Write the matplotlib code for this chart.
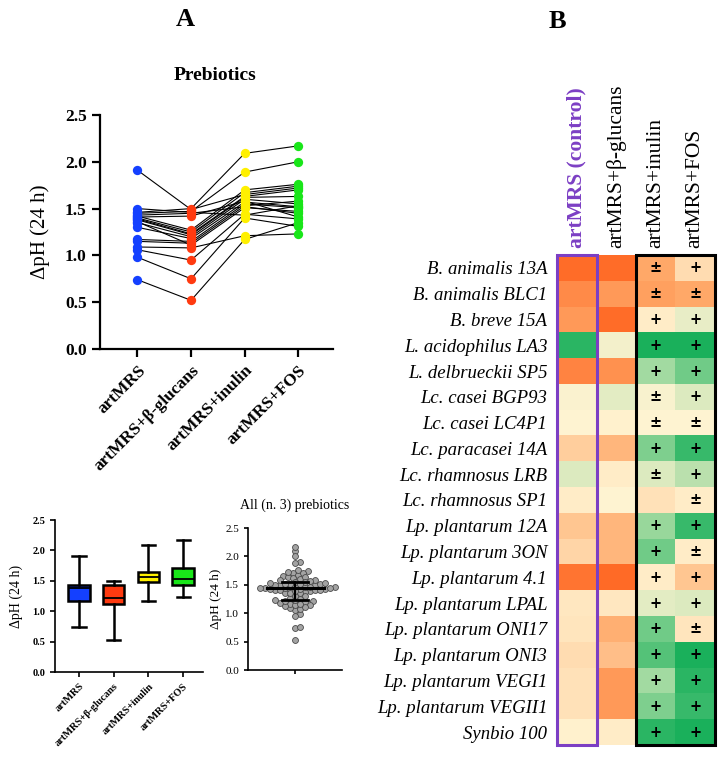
import numpy as np
import matplotlib
matplotlib.use('Agg')
import matplotlib.pyplot as plt
from matplotlib.colors import LinearSegmentedColormap
from matplotlib.patches import Rectangle

plt.rcParams['font.family'] = ['Liberation Serif', 'DejaVu Serif']

# data
media = ['artMRS', 'artMRS+β-glucans', 'artMRS+inulin', 'artMRS+FOS']
media_colors = ['#1440FF', '#FF3A10', '#FFF000', '#19E619']

strains = ['B. animalis 13A', 'B. animalis BLC1', 'B. breve 15A', 'L. acidophilus LA3',
           'L. delbrueckii SP5', 'Lc. casei BGP93', 'Lc. casei LC4P1', 'Lc. paracasei 14A',
           'Lc. rhamnosus LRB', 'Lc. rhamnosus SP1', 'Lp. plantarum 12A', 'Lp. plantarum 3ON',
           'Lp. plantarum 4.1', 'Lp. plantarum LPAL', 'Lp. plantarum ONI17', 'Lp. plantarum ONI3',
           'Lp. plantarum VEGI1', 'Lp. plantarum VEGII1', 'Synbio 100']

dph_artmrs = [0.74, 0.98, 1.06, 1.91, 1.09, 1.46, 1.45, 1.50, 1.43, 1.41,
              1.42, 1.40, 1.39, 1.38, 1.35, 1.30, 1.17, 1.15, 1.36]
dph_glucans = [0.52, 0.75, 0.95, 1.49, 1.08, 1.50, 1.47, 1.46, 1.45, 1.42,
               1.27, 1.25, 1.23, 1.22, 1.20, 1.18, 1.15, 1.13, 1.11]
dph_inulin = [1.17, 1.40, 1.44, 1.65, 1.21, 2.09, 1.89, 1.43, 1.52, 1.58,
              1.70, 1.67, 1.63, 1.62, 1.60, 1.57, 1.55, 1.53, 1.51]
dph_fos = [1.35, 1.31, 1.39, 1.72, 1.23, 2.17, 2.00, 1.53, 1.45, 1.41,
           1.76, 1.74, 1.70, 1.63, 1.55, 1.52, 1.51, 1.58, 1.47]

heat_columns = ['artMRS (control)', 'artMRS+β-glucans', 'artMRS+inulin', 'artMRS+FOS']
score_control = [-0.9, -0.7, -0.6, 0.85, -0.75, 0.02, 0.0, -0.25, 0.15, -0.05,
                 -0.3, -0.2, -0.85, -0.08, -0.1, -0.15, -0.12, -0.12, -0.02]
score_glucans = [-0.9, -0.6, -0.9, 0.05, -0.65, 0.12, -0.02, -0.4, -0.05, 0.0,
                 -0.4, -0.4, -0.92, -0.08, -0.45, -0.35, -0.6, -0.6, -0.05]
score_inulin = [-0.5, -0.55, -0.05, 0.9, 0.4, 0.03, 0.0, 0.55, 0.15, -0.12,
                0.45, 0.6, -0.05, 0.12, 0.6, 0.7, 0.4, 0.55, 0.85]
score_fos = [-0.15, -0.5, 0.1, 0.9, 0.6, 0.15, 0.0, 0.8, 0.3, -0.05,
             0.8, -0.05, -0.3, 0.15, -0.1, 0.9, 0.85, 0.8, 0.9]
sym_inulin = ['±', '±', '+', '+', '+', '±', '±', '+', '±', '',
              '+', '+', '+', '+', '+', '+', '+', '+', '+']
sym_fos = ['+', '±', '+', '+', '+', '+', '±', '+', '+', '±',
           '+', '±', '+', '+', '±', '+', '+', '+', '+']

W, H = 728, 767
fig = plt.figure(figsize=(W / 100, H / 100), dpi=100)


def px_axes(x0, y0, x1, y1):
    return fig.add_axes([x0 / W, 1 - y1 / H, (x1 - x0) / W, (y1 - y0) / H])


def style_axes(ax, lw, tlen):
    for s in ['top', 'right']:
        ax.spines[s].set_visible(False)
    for s in ['left', 'bottom']:
        ax.spines[s].set_linewidth(lw)
    ax.tick_params(width=lw, length=tlen)


groups = [dph_artmrs, dph_glucans, dph_inulin, dph_fos]
xpos = np.arange(4)

# ---- A: paired lines ----
ax = px_axes(100, 115, 333, 349)
style_axes(ax, 1.6, 6)
vals = np.array(groups).T
for row in vals:
    ax.plot(xpos, row, color='black', lw=0.8, zorder=1)
for i, g in enumerate(groups):
    ax.scatter(np.full(len(g), i), g, s=45, color=media_colors[i], zorder=3, linewidths=0)
ax.set_xlim(-0.7, 3.65)
ax.set_ylim(0, 2.5)
ax.set_yticks([0, 0.5, 1.0, 1.5, 2.0, 2.5])
ax.set_yticklabels(['0.0', '0.5', '1.0', '1.5', '2.0', '2.5'], fontsize=12.5, fontweight='bold')
ax.set_xticks(xpos)
ax.set_xticklabels(media, fontsize=12.5, fontweight='bold', rotation=45, ha='right',
                   rotation_mode='anchor')
ax.set_ylabel('ΔpH (24 h)', fontsize=15)
ax.yaxis.set_label_coords(-0.215, 0.5)

fig.text(215 / W, 1 - 75 / H, 'Prebiotics', fontsize=14, fontweight='bold', ha='center', va='center')
fig.text(185 / W, 1 - 20 / H, 'A', fontsize=19, fontweight='bold', ha='center', va='center')
fig.text(557 / W, 1 - 22 / H, 'B', fontsize=19, fontweight='bold', ha='center', va='center')

# ---- A: box plot ----
bx = px_axes(55, 520, 203, 672)
style_axes(bx, 1.2, 3.5)
bp = bx.boxplot(groups, positions=xpos, widths=0.62, whis=(0, 100), patch_artist=True,
                showfliers=False,
                medianprops=dict(color='black', lw=1.3),
                whiskerprops=dict(color='black', lw=1.8),
                capprops=dict(color='black', lw=1.8),
                boxprops=dict(edgecolor='black', lw=1.8))
for patch, c in zip(bp['boxes'], media_colors):
    patch.set_facecolor(c)
for cap in bp['caps']:
    mid = np.mean(cap.get_xdata())
    cap.set_xdata([mid - 0.19, mid + 0.19])
bx.set_xlim(-0.69, 3.57)
bx.set_ylim(0, 2.5)
bx.set_yticks([0, 0.5, 1.0, 1.5, 2.0, 2.5])
bx.set_yticklabels(['0.0', '0.5', '1.0', '1.5', '2.0', '2.5'], fontsize=7.5, fontweight='bold')
bx.set_xticks(xpos)
bx.set_xticklabels(media, fontsize=7.5, fontweight='bold', rotation=45, ha='right',
                   rotation_mode='anchor')
bx.set_ylabel('ΔpH (24 h)', fontsize=10)
bx.yaxis.set_label_coords(-0.216, 0.5)

# ---- A: all prebiotics dot plot ----
dx = px_axes(248, 528, 342, 670)
style_axes(dx, 1.2, 3)
allv = np.concatenate(groups)
sx, sy, d = 47.0, 56.8, 5.0
order = np.argsort(allv)
placed = []
xs = np.zeros(len(allv))
for i in order:
    y = allv[i] * sy
    found = False
    for k in range(0, 80):
        for sgn in ([1] if k == 0 else [1, -1]):
            x = sgn * k * d * 0.5
            if all((x - px) ** 2 + (y - py) ** 2 >= d * d * 0.8 for px, py in placed):
                placed.append((x, y))
                xs[i] = x / sx
                found = True
                break
        if found:
            break
dx.scatter(xs, allv, s=18, facecolor='#A3A3A3', edgecolor='#4A4A4A', linewidths=0.6, zorder=2)
q1, med, q3 = np.percentile(allv, [25, 50, 75])
dx.plot([-0.6, 0.62], [med, med], color='black', lw=2.2, zorder=3)
dx.plot([-0.28, 0.28], [q1, q1], color='black', lw=2.0, zorder=3)
dx.plot([-0.28, 0.28], [q3, q3], color='black', lw=2.0, zorder=3)
dx.plot([0, 0], [q1, q3], color='black', lw=1.6, zorder=3)
dx.set_xlim(-1, 1)
dx.set_ylim(0, 2.5)
dx.set_xticks([0])
dx.set_xticklabels([''])
dx.set_yticks([0, 0.5, 1.0, 1.5, 2.0, 2.5])
dx.set_yticklabels(['0.0', '0.5', '1.0', '1.5', '2.0', '2.5'], fontsize=8)
dx.set_ylabel('ΔpH (24 h)', fontsize=9.5)
dx.yaxis.set_label_coords(-0.28, 0.5)
dx.set_title('All (n. 3) prebiotics', fontsize=10, pad=14)

# ---- B: heatmap ----
cmap = LinearSegmentedColormap.from_list(
    'og', [(0.0, '#FF5F1A'), (0.25, '#FFA868'), (0.5, '#FFF4D2'), (0.75, '#8DD496'), (1.0, '#00A84E')])
hx = px_axes(557, 255, 715, 745)
scores = np.array([score_control, score_glucans, score_inulin, score_fos]).T
hx.imshow(scores, cmap=cmap, vmin=-1, vmax=1, aspect='auto', interpolation='nearest')
for s in hx.spines.values():
    s.set_visible(False)
hx.set_xlim(-0.5, 3.5)
hx.set_ylim(len(strains) - 0.5, -0.5)
hx.set_yticks(np.arange(len(strains)))
hx.set_yticklabels(strains, fontsize=13.5, fontstyle='italic')
hx.tick_params(axis='y', length=0, pad=7)
hx.xaxis.tick_top()
hx.set_xticks(xpos)
hx.set_xticklabels(heat_columns, rotation=90, fontsize=15.5, va='bottom', ha='center')
hx.tick_params(axis='x', length=0, pad=5)
lab0 = hx.get_xticklabels()[0]
lab0.set_color('#7C3FC4')
lab0.set_fontweight('bold')
for r in range(len(strains)):
    hx.text(2, r, sym_inulin[r], ha='center', va='center', fontsize=10.5, fontweight='bold',
            family='DejaVu Sans')
    hx.text(3, r, sym_fos[r], ha='center', va='center', fontsize=10.5, fontweight='bold',
            family='DejaVu Sans')
hx.add_patch(Rectangle((-0.5, -0.5), 1, len(strains), fill=False, edgecolor='#7C3FC4',
                       lw=2.2, clip_on=False, zorder=5))
hx.add_patch(Rectangle((1.5, -0.5), 2, len(strains), fill=False, edgecolor='black',
                       lw=2.2, clip_on=False, zorder=5))

fig.savefig('out.png', dpi=100)
